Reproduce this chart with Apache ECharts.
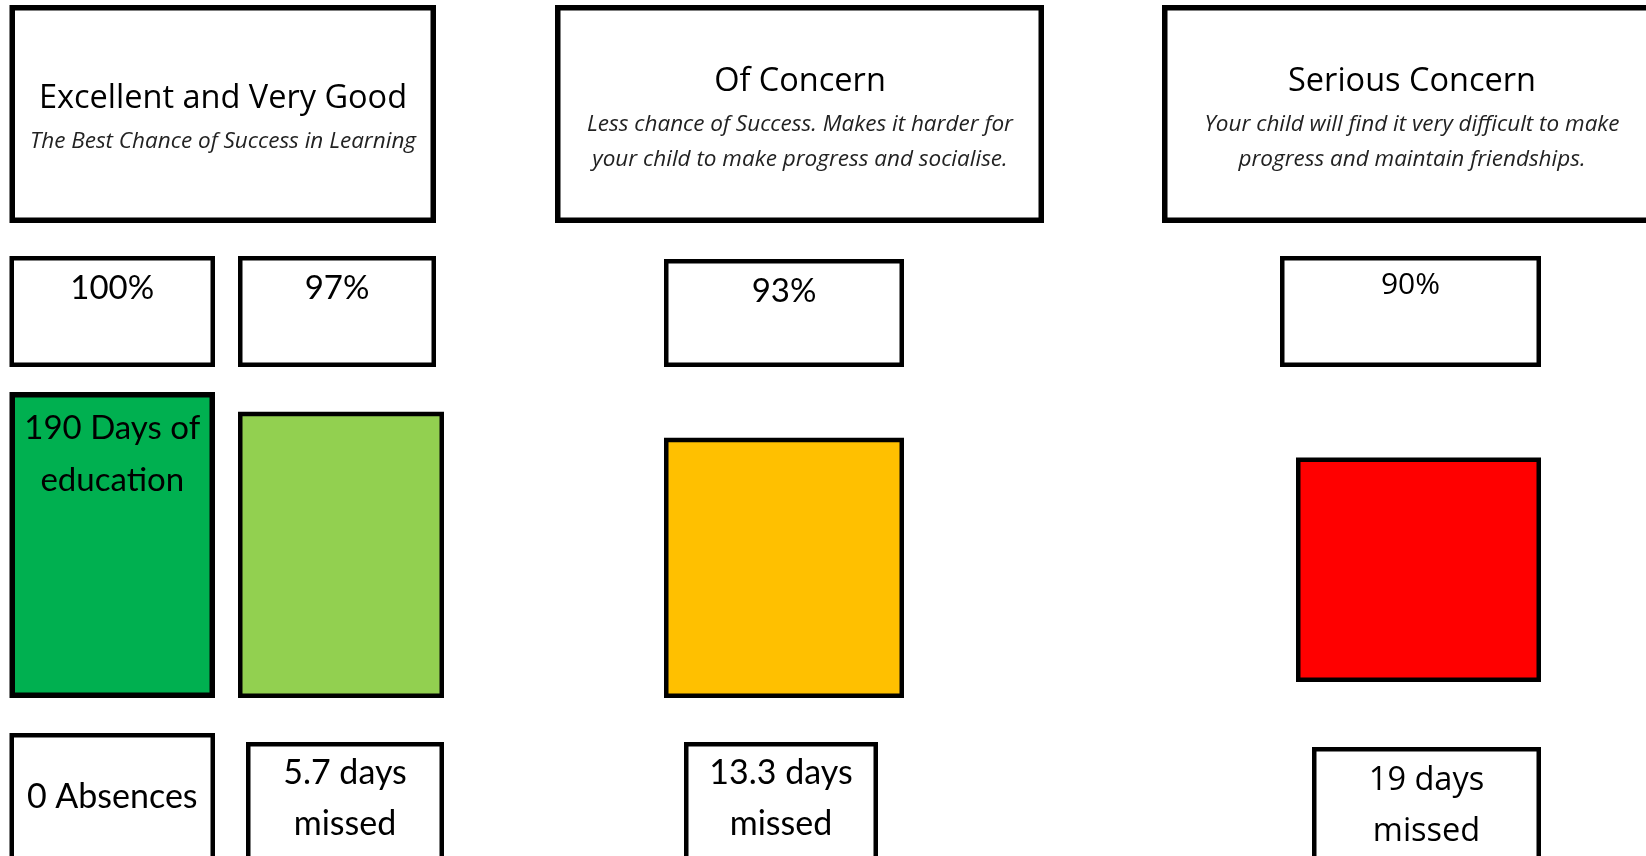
<!DOCTYPE html>
<html>
<head>
<meta charset="utf-8">
<script src="https://cdn.jsdelivr.net/npm/echarts@6/dist/echarts.min.js"></script>
<style>
html,body{margin:0;padding:0;background:#fff;}
#main{width:1646px;height:856px;}
</style>
</head>
<body>
<div id="main"></div>
<script>
// ---------- DATA ----------
const categories = ['Excellent and Very Good', 'Of Concern', 'Serious Concern'];
const subtitles = [
  ['The Best Chance of Success in Learning'],
  ['Less chance of Success. Makes it harder for', 'your child to make progress and socialise.'],
  ['Your child will find it very difficult to make', 'progress and maintain friendships.']
];
const attendance = [100, 97, 93, 90];
const attendanceLabels = ['100%', '97%', '93%', '90%'];
const barLabels = ['190 Days of\neducation', '', '', ''];
const daysMissed = [0, 5.7, 13.3, 19];
const missedLabels = ['0 Absences', '5.7 days\nmissed', '13.3 days\nmissed', '19 days\nmissed'];

// ---------- STYLE / LAYOUT (pixels) ----------
const barColors = ['#00B050', '#92D050', '#FFC000', '#FF0000'];
const headerLayout = [
  {x0: 9.5, x1: 436, y0: 5, y1: 223, tx: 223, ty: 99, sy: [142]},
  {x0: 555, x1: 1044, y0: 5, y1: 223, tx: 800, ty: 82, sy: [125, 159.5]},
  {x0: 1162, x1: 1700, y0: 5, y1: 223, tx: 1412, ty: 82, sy: [125, 159.5]}
];
const pctLayout = [
  {x0: 9.5, x1: 215, y0: 256, y1: 367, ty: 288, font: '33px Lato'},
  {x0: 238, x1: 436, y0: 256, y1: 367, ty: 288, font: '33px Lato'},
  {x0: 664, x1: 904, y0: 259, y1: 367, ty: 291, font: '33px Lato'},
  {x0: 1280, x1: 1541, y0: 256, y1: 367, ty: 285.5, font: '30px "Open Sans"'}
];
const barLayout = [
  {x0: 9.5, x1: 215, bottom: 698, lw: 5.5},
  {x0: 238, x1: 444, bottom: 698, lw: 4.5},
  {x0: 664, x1: 904, bottom: 698, lw: 4.5},
  {x0: 1296, x1: 1541, bottom: 682, lw: 4.5}
];
const missLayout = [
  {x0: 9.5, x1: 215, y0: 733, ty: [797], font: '34px Lato'},
  {x0: 246, x1: 444, y0: 742, ty: [773, 824], font: '34px Lato'},
  {x0: 684, x1: 878, y0: 742, ty: [773, 824], font: '34px Lato'},
  {x0: 1312, x1: 1541, y0: 747, ty: [781, 832], font: '32.5px "Open Sans"'}
];

function box(x0, y0, x1, y1, lw, fill) {
  const h = lw / 2;
  return {type: 'rect', shape: {x: x0 + h, y: y0 + h, width: x1 - x0 - lw, height: y1 - y0 - lw},
    style: {fill: fill || '#fff', stroke: '#000', lineWidth: lw}};
}
function txt(s, x, y, font, extra) {
  return {type: 'text', style: Object.assign({text: s, x: x, y: y, align: 'center', verticalAlign: 'middle',
    textAlign: 'center', textVerticalAlign: 'middle', font: font, fill: '#000'}, extra || {})};
}

const chart = echarts.init(document.getElementById('main'));
chart.setOption({
  animation: false,
  backgroundColor: '#fff',
  grid: {left: 0, right: 0, top: 0, bottom: 0},
  xAxis: {type: 'value', min: 0, max: 1646, show: false},
  yAxis: {type: 'value', min: 29, max: 160, show: false},
  series: [
    {
      type: 'custom',
      clip: false,
      data: categories.map((c, i) => [i]),
      renderItem: function (params, api) {
        const i = params.dataIndex;
        const L = headerLayout[i];
        const children = [box(L.x0, L.y0, L.x1, L.y1, 5.5)];
        children.push(txt(categories[i], L.tx, L.ty, '32.5px "Open Sans"'));
        subtitles[i].forEach((s, k) => {
          children.push(txt(s, L.tx, L.sy[k], 'italic 22.5px "Open Sans"', {fill: '#222'}));
        });
        return {type: 'group', children: children};
      }
    },
    {
      type: 'custom',
      clip: false,
      data: attendance.map((v, i) => [i, v, daysMissed[i]]),
      renderItem: function (params, api) {
        const i = params.dataIndex;
        const P = pctLayout[i], B = barLayout[i], M = missLayout[i];
        const children = [];
        // attendance box
        children.push(box(P.x0, P.y0, P.x1, P.y1, 4.5));
        children.push(txt(attendanceLabels[i], (P.x0 + P.x1) / 2, P.ty, P.font));
        // bar: top from attendance value through the y scale
        const top = api.coord([B.x0, api.value(1)]);
        children.push(box(B.x0, top[1], B.x1, B.bottom, B.lw, barColors[i]));
        if (barLabels[i]) {
          const bl = barLabels[i].split('\n');
          children.push(txt(bl[0], (B.x0 + B.x1) / 2, 428, '33px Lato'));
          children.push(txt(bl[1], (B.x0 + B.x1) / 2, 480, '33px Lato'));
        }
        // days missed box
        children.push(box(M.x0, M.y0, M.x1, 900, 4.5));
        const lines = missedLabels[i].split('\n');
        lines.forEach((s, k) => children.push(txt(s, (M.x0 + M.x1) / 2, M.ty[k], M.font)));
        return {type: 'group', children: children};
      }
    }
  ]
});
</script>
</body>
</html>
